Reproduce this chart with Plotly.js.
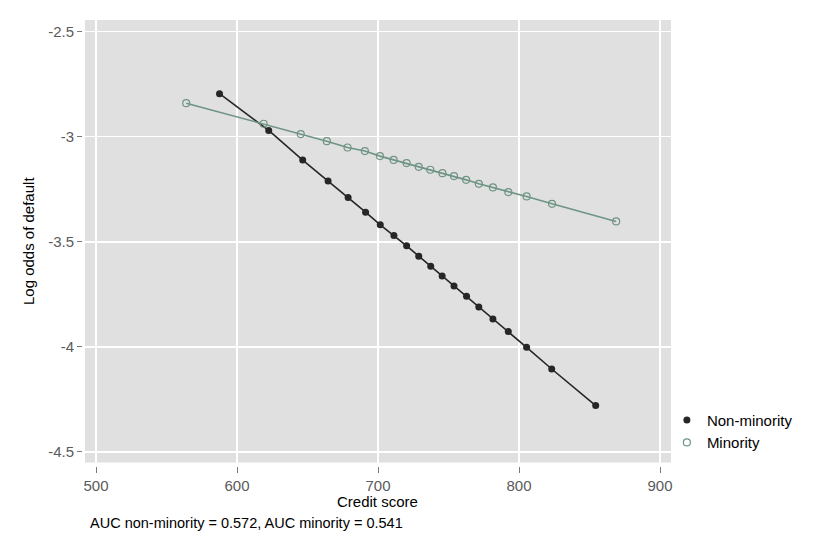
<!DOCTYPE html>
<html>
<head>
<meta charset="utf-8">
<script src="https://cdn.plot.ly/plotly-3.0.1.min.js"></script>
<style>
  body { margin: 0; background: #fff; }
  #plot { width: 830px; height: 554px; }
</style>
</head>
<body>
<div id="plot"></div>
<script>
// binned credit score vs log odds
const nonMinScore = [587.6, 622.5, 646.6, 664.6, 678.8, 691.2, 701.6, 711.3, 720.3, 728.9,
  737.4, 745.5, 753.9, 762.8, 771.5, 781.5, 792.4, 805.4, 823.2, 854.4];
const nonMinOdds = [-2.795, -2.97, -3.111, -3.210, -3.289, -3.359, -3.419, -3.470, -3.519, -3.568,
  -3.616, -3.663, -3.710, -3.759, -3.810, -3.867, -3.927, -4.002, -4.105, -4.279];

const minScore = [564.0, 618.9, 645.2, 663.7, 678.4, 690.7, 701.4, 711.1, 720.3, 728.9,
  737.1, 745.7, 753.9, 762.5, 771.5, 781.5, 792.4, 805.4, 823.4, 868.9];
const minOdds = [-2.840, -2.938, -2.987, -3.021, -3.051, -3.068, -3.092, -3.110, -3.125, -3.143,
  -3.157, -3.173, -3.187, -3.205, -3.224, -3.241, -3.263, -3.284, -3.319, -3.403];

const xTicks = [500, 600, 700, 800, 900];
const yTicks = [-2.5, -3, -3.5, -4, -4.5];
const yTickText = ["-2.5", "-3", "-3.5", "-4", "-4.5"];
const noteText = "AUC non-minority = 0.572, AUC minority = 0.541";

const darkCol = "#262626";
const sageCol = "#6e9484";
const font = "Liberation Sans, Arial, Helvetica, sans-serif";

const xRange = [492.2, 907.8];
const yRange = [-4.55, -2.4443];

var lineNon = {
  x: nonMinScore, y: nonMinOdds, mode: "lines", type: "scatter",
  line: { color: darkCol, width: 1.6 }, showlegend: false, hoverinfo: "skip"
};
var lineMin = {
  x: minScore, y: minOdds, mode: "lines", type: "scatter",
  line: { color: sageCol, width: 1.6 }, showlegend: false, hoverinfo: "skip"
};
var ptsNon = {
  x: nonMinScore, y: nonMinOdds, mode: "markers", type: "scatter", name: "Non-minority",
  marker: { color: darkCol, size: 7, symbol: "circle" }
};
var ptsMin = {
  x: minScore, y: minOdds, mode: "markers", type: "scatter", name: "Minority",
  marker: { color: sageCol, size: 7, symbol: "circle-open", line: { color: sageCol, width: 1.2 } }
};
// invisible copy so the offset tick axes get drawn
var ghost = {
  x: nonMinScore, y: nonMinOdds, xaxis: "x2", yaxis: "y2", mode: "markers", type: "scatter",
  marker: { opacity: 0 }, showlegend: false, hoverinfo: "skip"
};

var data = [lineNon, lineMin, ptsNon, ptsMin, ghost];

var layout = {
  width: 830, height: 554,
  margin: { l: 82, r: 159, t: 20, b: 88 },
  paper_bgcolor: "#ffffff",
  plot_bgcolor: "#e0e0e0",
  font: { family: font, size: 15, color: "#000" },
  showlegend: true,
  xaxis: {
    domain: [3 / 589, 1], range: xRange,
    tickvals: xTicks, showticklabels: false, ticks: "",
    showgrid: true, gridcolor: "#ffffff", gridwidth: 1.3,
    zeroline: false, showline: false, fixedrange: true
  },
  yaxis: {
    domain: [3.5 / 446, 1], range: yRange,
    tickvals: yTicks, showticklabels: false, ticks: "",
    showgrid: true, gridcolor: "#ffffff", gridwidth: 1.3,
    zeroline: false, showline: false, fixedrange: true
  },
  xaxis2: {
    overlaying: "x", anchor: "free", position: 0, range: xRange,
    tickvals: xTicks, ticktext: xTicks.map(String),
    ticks: "outside", ticklen: 6, tickwidth: 1, tickcolor: "#7a7a7a",
    tickfont: { family: font, size: 15, color: "#5a5a5a" },
    showgrid: false, zeroline: false, showline: false, automargin: false
  },
  yaxis2: {
    overlaying: "y", anchor: "free", position: 0, range: yRange,
    tickvals: yTicks, ticktext: yTickText,
    ticks: "outside", ticklen: 5, tickwidth: 1, tickcolor: "#7a7a7a",
    tickfont: { family: font, size: 15, color: "#5a5a5a" },
    showgrid: false, zeroline: false, showline: false, automargin: false,
    title: { text: "Log odds of default", font: { family: font, size: 15, color: "#000" }, standoff: 8 }
  },
  legend: {
    x: 0.993, xanchor: "left", y: 0.078, yanchor: "middle",
    bgcolor: "rgba(0,0,0,0)", borderwidth: 0,
    font: { family: font, size: 15, color: "#000" }
  },
  annotations: [{
    text: "Credit score", xref: "paper", yref: "paper",
    x: 0.5025, xanchor: "center", y: -0.08, yanchor: "middle",
    showarrow: false, font: { family: font, size: 15, color: "#000" }
  }, {
    text: noteText, xref: "paper", yref: "paper",
    x: (88 - 82) / 589, xanchor: "left", y: -0.1275, yanchor: "middle",
    showarrow: false, font: { family: font, size: 14.5, color: "#000" }
  }]
};

Plotly.newPlot("plot", data, layout, { staticPlot: true, displayModeBar: false });
</script>
</body>
</html>
